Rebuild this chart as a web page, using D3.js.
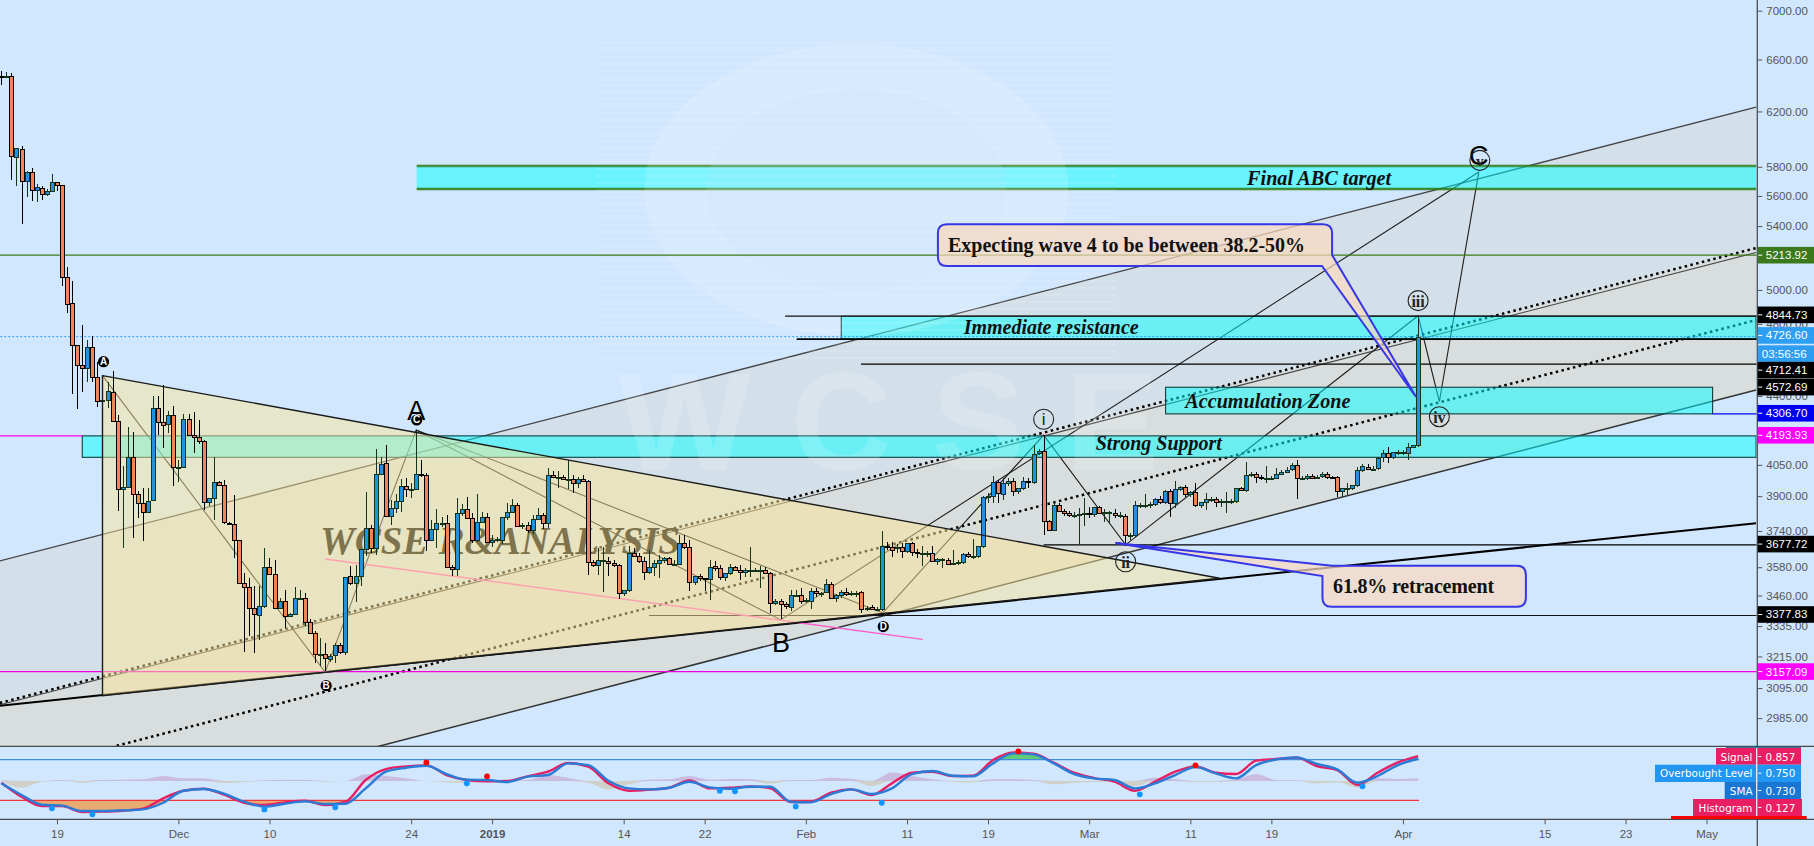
<!DOCTYPE html>
<html><head><meta charset="utf-8">
<script src="https://cdn.jsdelivr.net/npm/d3@7/dist/d3.min.js"></script>
<style>
html,body{margin:0;padding:0;background:#D1E7FE;overflow:hidden}
svg{display:block}
text{font-family:"Liberation Sans",Arial,sans-serif}
</style></head><body><svg id="c" width="1814" height="846"></svg>
<script>
// ---------- candle values (12h bars) ----------
const opens=[6468,6466,6468,5866,5924,5700,5762,5638,5655,5615,
5636,5692,5671,5077,4921,4677,4566,4549,4666,4500,
4378,4378,4420,4272,3932,3945,4090,3909,3866,3825,
3882,4335,4267,4254,4299,4038,4040,4278,4197,4186,
4166,3875,3890,3966,3955,3775,3770,3698,3511,3497,
3409,3380,3415,3583,3551,3409,3438,3376,3384,3448,
3448,3352,3307,3224,3226,3206,3219,3258,3233,3541,
3513,3544,3659,3755,3663,4005,4058,3810,3843,3879,
3950,3934,3934,4005,4003,3700,3748,3775,3778,3580,
3572,3823,3842,3798,3698,3782,3805,3689,3700,3698,
3802,3826,3860,3763,3769,3744,3796,3814,3775,4002,
3989,3991,3980,3980,3961,3983,3970,3602,3590,3610,
3606,3597,3590,3471,3482,3640,3629,3606,3559,3579,
3597,3610,3619,3594,3596,3688,3667,3518,3541,3532,
3530,3585,3575,3538,3555,3579,3570,3560,3566,3568,
3568,3568,3555,3429,3438,3426,3413,3462,3462,3438,
3438,3480,3469,3474,3509,3450,3461,3475,3466,3469,
3474,3406,3413,3404,3404,3671,3667,3662,3667,3650,
3686,3648,3640,3642,3640,3606,3613,3613,3594,3600,
3602,3637,3627,3627,3671,3900,3901,3967,3909,3961,
3973,3926,3937,3971,3966,4106,4120,3784,3746,3860,
3829,3820,3811,3815,3817,3823,3815,3848,3823,3823,
3823,3811,3810,3722,3722,3857,3859,3857,3865,3885,
3872,3923,3866,3932,3945,3909,3918,3857,3875,3885,
3885,3875,3875,3877,3879,3937,3929,4000,4006,3992,
3984,3986,3988,4007,4017,4028,4048,3984,3984,3997,
3987,3995,4008,3989,3992,3926,3936,3938,3951,4023,
4042,4029,4033,4087,4107,4090,4112,4112,4107,4140,
4146];
const highs=[6510,6502,6491,5935,5948,5770,5790,5678,5667,5645,
5750,5695,5675,5140,5055,4680,4793,4708,4730,4587,
4510,4474,4535,4300,4046,4237,4216,3925,3937,3937,
4400,4400,4458,4321,4347,4074,4304,4304,4318,4275,
4175,3890,4087,3972,3976,3782,3906,3700,3555,3534,
3502,3499,3663,3620,3613,3450,3482,3390,3497,3482,
3470,3364,3315,3287,3268,3225,3268,3266,3537,3587,
3590,3658,3918,3767,4130,4090,4150,3882,3910,3980,
3984,3961,4220,4074,4010,3790,3840,3802,3812,3590,
3890,3864,3898,3820,3909,3825,3820,3720,3715,3802,
3866,3885,3870,3775,3780,3812,3843,3823,4033,4021,
4021,4000,4074,4000,3990,4000,3975,3610,3663,3670,
3625,3613,3595,3485,3675,3663,3640,3625,3653,3613,
3634,3625,3625,3610,3723,3721,3700,3541,3550,3535,
3612,3605,3590,3555,3593,3587,3590,3575,3670,3575,
3587,3580,3560,3445,3445,3432,3484,3482,3492,3450,
3492,3490,3475,3530,3518,3465,3484,3490,3480,3480,
3480,3415,3420,3412,3741,3690,3690,3680,3685,3688,
3690,3660,3673,3650,3671,3620,3620,3620,3656,3610,
3640,3645,3704,3675,3900,3915,3997,3975,3985,3985,
3985,3940,3990,3985,4150,4130,4198,3790,3875,3866,
3840,3830,3825,3843,3890,3850,3851,3855,3840,3830,
3838,3825,3815,3730,3879,3870,3910,3875,3890,3900,
3930,3935,3970,3950,3953,3925,3961,3875,3913,3895,
3895,3885,3921,3885,3937,3945,4066,4015,4015,4000,
4044,3995,4036,4025,4041,4058,4072,3995,4005,4005,
4000,4017,4015,3998,3997,3940,3961,3955,4041,4056,
4055,4045,4090,4125,4140,4115,4125,4125,4160,4150,
4847];
const lows=[6401,6461,5709,5669,5416,5595,5568,5561,5575,5599,
5629,5636,5026,4865,4413,4334,4423,4477,4477,4344,
4360,4336,4265,3833,3662,3945,3708,3800,3697,3820,
3882,4198,4134,4207,3950,3965,4035,4197,4110,4155,
3835,3853,3788,3950,3772,3765,3620,3640,3232,3294,
3228,3280,3410,3570,3409,3405,3329,3370,3384,3440,
3335,3345,3190,3177,3160,3195,3190,3225,3222,3505,
3433,3498,3627,3640,3634,4000,3810,3767,3820,3828,
3898,3890,3930,3992,3652,3695,3663,3760,3580,3541,
3544,3810,3798,3685,3692,3775,3689,3670,3690,3680,
3790,3820,3760,3750,3730,3725,3790,3750,3752,3985,
3937,3975,3934,3915,3937,3970,3546,3580,3548,3473,
3541,3580,3447,3460,3473,3625,3600,3524,3550,3541,
3536,3600,3590,3585,3590,3660,3481,3505,3520,3481,
3440,3565,3525,3520,3545,3565,3527,3540,3538,3560,
3492,3550,3389,3420,3362,3405,3395,3455,3425,3430,
3406,3455,3455,3470,3445,3435,3450,3460,3460,3455,
3389,3395,3400,3395,3395,3655,3626,3640,3620,3640,
3627,3620,3587,3625,3606,3590,3577,3590,3590,3590,
3595,3620,3615,3620,3665,3866,3866,3866,3880,3950,
3900,3910,3930,3940,3960,4100,3724,3745,3740,3825,
3810,3805,3800,3680,3763,3800,3805,3815,3780,3775,
3800,3800,3672,3700,3715,3845,3845,3845,3855,3865,
3865,3805,3843,3925,3895,3895,3851,3845,3835,3875,
3848,3851,3820,3865,3870,3925,3920,3990,3961,3975,
3961,3975,3984,4000,4010,4020,3888,3975,3975,3980,
3980,3985,3980,3980,3895,3898,3906,3930,3945,4015,
4025,4020,4025,4065,4060,4080,4100,4100,4074,4135,
4140];
const closes=[6466,6468,5873,5931,5700,5762,5638,5662,5615,5636,
5692,5671,5077,4915,4677,4566,4549,4666,4500,4372,
4380,4425,4272,3932,3945,4090,3909,3866,3825,3879,
4335,4267,4247,4299,4038,4040,4278,4197,4186,4166,
3875,3890,3966,3955,3779,3770,3698,3511,3497,3409,
3384,3415,3583,3551,3409,3438,3376,3382,3448,3450,
3352,3307,3224,3226,3210,3216,3258,3233,3537,3513,
3541,3658,3755,3663,4005,4053,3810,3843,3879,3950,
3934,3936,4005,4003,3700,3748,3775,3778,3580,3572,
3823,3842,3798,3698,3782,3805,3689,3700,3702,3802,
3826,3860,3763,3765,3744,3796,3814,3775,4002,3989,
3991,3980,3982,3961,3980,3970,3602,3590,3610,3612,
3597,3590,3471,3482,3640,3629,3606,3559,3579,3597,
3610,3619,3594,3596,3688,3667,3518,3541,3532,3530,
3579,3575,3538,3555,3579,3570,3560,3566,3568,3570,
3570,3555,3429,3438,3426,3415,3462,3464,3438,3440,
3480,3469,3471,3509,3450,3461,3474,3466,3469,3471,
3406,3408,3406,3406,3671,3667,3656,3667,3650,3684,
3648,3640,3642,3644,3606,3615,3615,3594,3600,3602,
3636,3627,3629,3671,3896,3902,3967,3913,3961,3970,
3926,3937,3971,3969,4105,4120,3784,3746,3857,3829,
3820,3811,3813,3817,3820,3815,3848,3823,3825,3825,
3811,3813,3722,3724,3857,3859,3861,3865,3885,3875,
3923,3866,3932,3945,3909,3921,3857,3872,3885,3887,
3875,3877,3877,3879,3937,3928,4000,4006,3992,3984,
3986,3988,4007,4017,4023,4048,3984,3986,3997,3987,
3990,4008,3989,3986,3926,3939,3938,3951,4023,4044,
4029,4031,4085,4107,4090,4112,4114,4114,4140,4146,
4726.6];
// ---------- axes ----------
const priceTicks=[7000,6600,6200,5800,5600,5400,5000,4800,4400,4050,3900,3740,3580,3460,3335,3215,3095,2985];
const timeTickBars=[11,35,53,81,97,123,139,159,179,195,215,235,251,277,305,321,337];
const timeTickLabels=["19","Dec","10","24","2019","14","22","Feb","11","19","Mar","11","19","Apr","15","23","May"];
// ---------- oscillator pane, read every 4th bar ----------
const oscBars=[0,4,8,12,16,20,24,28,32,36,40,44,48,52,56,60,64,68,72,76,80,84,88,92,96,100,104,108,112,116,120,124,128,132,136,140,144,148,152,156,160,164,168,172,176,180,184,188,192,196,200,204,208,212,216,220,224,228,232,236,240,244,248,252,256,260,264,268,272,276,280];
const oscSignal=[.467,.294,.179,.179,.106,.110,.122,.147,.274,.368,
.393,.319,.220,.192,.225,.245,.192,.229,.500,.635,
.668,.680,.561,.500,.483,.487,.545,.602,.709,.664,
.459,.368,.381,.405,.495,.397,.405,.422,.397,.229,
.233,.344,.385,.315,.459,.590,.602,.549,.553,.746,
.840,.824,.713,.590,.524,.479,.368,.479,.602,.668,
.590,.573,.738,.758,.775,.672,.623,.438,.590,.717,.795];
const oscSma=[.459,.315,.196,.184,.118,.118,.126,.138,.220,.368,
.389,.331,.233,.171,.208,.237,.204,.208,.397,.602,
.651,.676,.573,.504,.500,.475,.541,.561,.705,.684,
.491,.397,.385,.405,.479,.409,.393,.417,.417,.233,
.225,.327,.385,.327,.397,.573,.610,.553,.545,.705,
.828,.816,.705,.573,.520,.500,.397,.459,.561,.660,
.582,.520,.684,.754,.779,.697,.631,.467,.549,.684,.762];
const oscHist=[.03,-.32,-.03,.05,-.08,.05,.06,.08,.24,.13,
.13,-.10,-.05,.03,.06,.06,-.03,0,.32,.24,
.13,0,-.06,-.10,.03,.03,.05,.29,.16,-.08,
-.40,-.16,.06,.08,.24,.06,.10,.08,-.13,.05,
.05,.16,.10,-.24,.40,.24,.08,-.03,-.06,.08,
.08,.05,-.16,-.08,-.05,-.03,-.24,.16,.08,-.05,
-.05,.08,.32,.05,.03,-.11,-.06,-.32,.13,.10,.127];
const oscLevels=[.75,.25];
const dotUpBars=[84,96,201,236], dotUpVals=[.717,.545,.853,.680];
const dotDnBars=[10,18,52,66,92,142,145,157,174,225,269], dotDnVals=[.151,.077,.138,.163,.459,.368,.360,.175,.220,.323,.422];
const paneTagNames=["Signal","Overbought Level","SMA","Histogram"];
const paneTagVals=["0.857","0.750","0.730","0.127"];
// ---------- drawings on the price pane ----------
const channelUpper=[[-0.3,3607],[346.8,6233]];
const channelMidDot=[[-0.3,3040],[346.8,5259]];
const channelMidSolid=[[-0.3,3033],[346.8,5231]];
const channelLowDot=[[22.8,2887],[346.8,4822]];
const channelLower=[[-0.3,2564],[346.8,4432]];
const thickTrend=[[-0.3,3030],[346.8,3775]];
const triangle=[[20,4510],[240.8,3533],[20,3067]];
const pinkLine=[[64,3616],[182.1,3282]];
const abcLeg=[[20,4510],[64,3155],[82,4224],[154,3360]];
const abcLeg2=[[82,4224],[174.2,3388]];
const bigLeg=[[154,3360],[292,5764]];
const waveLegs=[[174.2,3388],[206,4198],[222.2,3678],[280,4847],[284.2,4370],[292,5764]];
const levelPrices=[5213.92,4726.6,4193.93,3157.09,3677.72,3377.83,4844.73,4712.41,4572.69,4306.7];
const levelStart=[-1,-1,-1,-1,206,128,154.9,157.2,169.9,338.2];
const bandNames=["Final ABC target","Strong Support","Accumulation Zone","Immediate resistance"];
const bandTop=[5806,4193.93,4447,4844.73];
const bandBottom=[5647,4087,4306.7,4712.41];
const bandFrom=[82.1,16,230.1,166];
const bandTo=[346.8,346.8,338.2,346.8];
const bandTextAt=[[246.2,5674],[216.3,4123],[234,4336],[190.2,4742]];
const priceTags=["5213.92","4844.73","4726.60","03:56:56","4712.41","4572.69","4306.70","4193.93","3677.72","3377.83","3157.09"];
const priceTagAt=[5213.92,4844.73,4726.6,4726.6,4712.41,4572.69,4306.7,4193.93,3677.72,3377.83,3157.09];
const smallBadges=["A","C","B","D"];
const smallBadgeAt=[[20.2,4586],[82.1,4275],[64.2,3104],[174.3,3333]];
const bigLetters=["A","B","C"];
const bigLetterAt=[[82,4275],[154.1,3233],[292,5813]];
const waveNames=["i","ii","iii","iv","v"];
const waveAt=[[206,4279],[222.2,3604],[280,4936],[284.2,4292],[292.2,5845]];
const callout1Box=[185.1,5412,263,5147], callout1Tip=[279.6,4395], callout1Base=[[263,5215],[261,5147]];
const callout2Box=[261.1,3586,301.3,3414], callout2Tip=[220.2,3686], callout2Base=[[263,3586],[261.1,3542]];

// ---------- scales ----------
const x=d3.scaleLinear().domain([0,280]).range([1.3,1418.1]);
const y=d3.scaleLog().domain([2985,7000]).range([718.1,10.7]);
const yOsc=d3.scaleLinear().domain([0,1]).range([820.6,739.4]);
const yHist=d3.scaleLinear().domain([-1,1]).range([802,760]);
const P=p=>[x(p[0]),y(p[1])];

const svg=d3.select("#c");
const AX=1757.3, PB=746.3, LB=819.3;
const defs=svg.append("defs");
defs.append("clipPath").attr("id","main").append("rect").attr("x",0).attr("y",0).attr("width",AX-.8).attr("height",PB);
const st=defs.append("pattern").attr("id","scan").attr("width",8).attr("height",7).attr("patternUnits","userSpaceOnUse");
st.append("rect").attr("width",8).attr("height",2).attr("fill","rgba(255,255,255,.10)");
defs.append("clipPath").attr("id","oscLow").append("rect").attr("x",0).attr("y",yOsc(.25)).attr("width",AX).attr("height",LB-yOsc(.25));
defs.append("clipPath").attr("id","oscHigh").append("rect").attr("x",0).attr("y",PB).attr("width",AX).attr("height",yOsc(.75)-PB);

const g=svg.append("g").attr("clip-path","url(#main)");
const line=d3.line(d=>d[0],d=>d[1]);
const poly=a=>line(a.map(P))+"Z";
const open=a=>line(a.map(P));

// channel fills
g.append("path").attr("d",poly([channelUpper[0],channelUpper[1],channelMidDot[1],channelMidDot[0]])).attr("fill","#D4E0E9");
g.append("path").attr("d",poly([channelMidDot[0],channelMidDot[1],channelLower[1],channelLower[0]])).attr("fill","#D8DDDD");

// channel & wave lines (sit beneath the bands and the triangle)
g.append("path").attr("d",open(channelUpper)).attr("stroke","#444").attr("stroke-width",1.3).attr("fill","none");
g.append("path").attr("d",open(channelLower)).attr("stroke","#333").attr("stroke-width",1.5).attr("fill","none");
g.append("path").attr("d",open(channelMidSolid)).attr("stroke","#444").attr("stroke-width",1.1).attr("fill","none");
[channelMidDot,channelLowDot].forEach(l=>g.append("path").attr("d",open(l)).attr("stroke","#000").attr("stroke-width",2.5).attr("stroke-dasharray","2.5 3.4").attr("fill","none"));
g.append("path").attr("d",open(thickTrend)).attr("stroke","#000").attr("stroke-width",2).attr("fill","none");
[abcLeg,abcLeg2,bigLeg,waveLegs].forEach(l=>g.append("path").attr("d",open(l)).attr("stroke","#1c1c1c").attr("stroke-width",1.1).attr("fill","none"));

// bands
bandTop.forEach((t,i)=>{
  const bx=x(bandFrom[i]),w=x(bandTo[i])-bx,yt=y(t),yb=y(bandBottom[i]);
  g.append("rect").attr("x",bx).attr("y",yt).attr("width",w).attr("height",yb-yt).attr("fill","rgba(0,255,255,.5)");
  if(i==0){
    [yt,yb].forEach(v=>{
      g.append("line").attr("x1",bx).attr("x2",bx+w).attr("y1",v).attr("y2",v).attr("stroke","rgba(47,122,18,.45)").attr("stroke-width",3);
      g.append("line").attr("x1",bx).attr("x2",bx+w).attr("y1",v).attr("y2",v).attr("stroke","#2F7A12").attr("stroke-width",1.4);
    });
  }else{
    g.append("rect").attr("x",bx).attr("y",yt).attr("width",w).attr("height",yb-yt).attr("fill","none").attr("stroke","#0E3E3E").attr("stroke-width",1.1);
  }
});

// logo watermark
const wmC=P([169,5640]);
const wm=g.append("g");
wm.append("ellipse").attr("cx",wmC[0]).attr("cy",wmC[1]).attr("rx",212).attr("ry",146).attr("fill","rgba(255,255,255,.14)");
wm.append("ellipse").attr("cx",wmC[0]).attr("cy",wmC[1]).attr("rx",150).attr("ry",100).attr("fill","rgba(200,226,250,.14)");
wm.append("rect").attr("x",wmC[0]-260).attr("y",wmC[1]-150).attr("width",520).attr("height",320).attr("fill","url(#scan)");
const wmT=P([122,4025]);
wm.append("text").attr("x",wmT[0]).attr("y",wmT[1]).text("WCSE").attr("font-size",140).attr("font-weight",700)
  .attr("fill","rgba(255,255,255,.15)").attr("textLength",540).attr("lengthAdjust","spacing");

// horizontal levels
const levelColors=["#3B7A17","#2A9DF4","#FF00FF","#F000E0","#000","#111","#111","#000","#000","#0000FF"];
const levelWidths=[1.3,1,1.3,1.3,1.2,1.2,1.2,1.6,1.2,1.3];
levelPrices.forEach((p,i)=>{
  if(i==2) return;
  g.append("line").attr("x1",x(levelStart[i])).attr("x2",AX).attr("y1",y(p)).attr("y2",y(p))
   .attr("stroke",levelColors[i]).attr("stroke-width",levelWidths[i]).attr("stroke-dasharray",i==1?"2 2":null);
});
g.append("line").attr("x1",x(levelStart[2])).attr("x2",x(bandFrom[1])).attr("y1",y(levelPrices[2])).attr("y2",y(levelPrices[2])).attr("stroke",levelColors[2]).attr("stroke-width",levelWidths[2]);
g.append("path").attr("d",open(pinkLine)).attr("stroke","#FF5CC8").attr("stroke-width",1.4).attr("fill","none");

// signature sits under the triangle's tint
const sigT=P([63,3637]);
g.append("text").attr("x",sigT[0]).attr("y",sigT[1]).text("WCSE R&ANALYSIS").attr("fill","#000")
 .style("font-family","'Liberation Serif',serif").attr("font-weight",700).attr("font-style","italic").attr("font-size",40)
 .attr("textLength",360).attr("lengthAdjust","spacingAndGlyphs");

// triangle fill
g.append("path").attr("d",poly(triangle)).attr("fill","rgba(251,230,152,.5)");

// candles
const cg=g.append("g");
closes.forEach((c,i)=>{
  const cx=Math.round(x(i));
  const up=c>=opens[i];
  const yo=y(opens[i]),yc=y(c);
  const top=Math.round(Math.min(yo,yc)),bot=Math.round(Math.max(yo,yc));
  const edge=up?"#14351a":"#000";
  cg.append("line").attr("x1",cx+.5).attr("x2",cx+.5).attr("y1",y(highs[i])).attr("y2",y(lows[i])).attr("stroke",edge).attr("stroke-width",1).attr("shape-rendering","crispEdges");
  cg.append("rect").attr("x",cx-1.5).attr("y",top+.5).attr("width",4).attr("height",Math.max(bot-top,1))
    .attr("fill",up?"#2093E0":"#F2845A").attr("stroke",edge).attr("stroke-width",1).attr("shape-rendering","crispEdges");
});

// triangle outline
g.append("path").attr("d",poly(triangle)).attr("fill","none").attr("stroke","#1b1b1b").attr("stroke-width",1.4);

// callouts
const calloutFill="rgba(250,218,190,.72)", calloutEdge="#3636E6";
(function(){
  const r=9,[a,b]=P([callout1Box[0],callout1Box[1]]),[c,d]=P([callout1Box[2],callout1Box[3]]);
  const t=P(callout1Tip),r1=P(callout1Base[0]),r2=P(callout1Base[1]);
  g.append("path").attr("d",`M${a+r},${b}L${c-r},${b}Q${c},${b} ${c},${b+r}L${r1[0]},${r1[1]}L${t[0]},${t[1]}L${r2[0]},${r2[1]}L${a+r},${d}Q${a},${d} ${a},${d-r}L${a},${b+r}Q${a},${b} ${a+r},${b}Z`)
   .attr("fill",calloutFill).attr("stroke",calloutEdge).attr("stroke-width",2);
  const [e,f]=P([callout2Box[0],callout2Box[1]]),[h,j]=P([callout2Box[2],callout2Box[3]]);
  const u=P(callout2Tip),s1=P(callout2Base[0]),s2=P(callout2Base[1]);
  g.append("path").attr("d",`M${u[0]},${u[1]}L${s1[0]},${s1[1]}L${h-r},${f}Q${h},${f} ${h},${f+r}L${h},${j-r}Q${h},${j} ${h-r},${j}L${e+r},${j}Q${e},${j} ${e},${j-r}L${s2[0]},${s2[1]}Z`)
   .attr("fill",calloutFill).attr("stroke",calloutEdge).attr("stroke-width",2);
})();
const serifBold=s=>s.style("font-family","'Liberation Serif',serif").attr("font-weight",700).attr("fill","#111");
const t1=P([187.1,5236]);
serifBold(g.append("text").attr("x",t1[0]).attr("y",t1[1]).text("Expecting wave 4 to be between 38.2-50%").attr("font-size",20).attr("textLength",357).attr("lengthAdjust","spacing"));
const t2=P([263.2,3471]);
serifBold(g.append("text").attr("x",t2[0]).attr("y",t2[1]).text("61.8% retracement").attr("font-size",20).attr("textLength",161).attr("lengthAdjust","spacing"));

// band captions
const captionW=[144,126,165,175];
bandNames.forEach((n,i)=>{
  const p=P(bandTextAt[i]);
  serifBold(g.append("text").attr("x",p[0]).attr("y",p[1]).text(n).attr("font-style","italic").attr("font-size",20)
    .attr("textLength",captionW[i]).attr("lengthAdjust","spacingAndGlyphs"));
});

// letters & wave circles
bigLetters.forEach((n,i)=>{
  const p=P(bigLetterAt[i]);
  g.append("text").attr("x",p[0]).attr("y",p[1]).attr("text-anchor","middle").text(n).attr("font-size",27).attr("fill","#000");
});
smallBadges.forEach((n,i)=>{
  const p=P(smallBadgeAt[i]);
  g.append("circle").attr("cx",p[0]).attr("cy",p[1]).attr("r",5.6).attr("fill","#000");
  g.append("text").attr("x",p[0]).attr("y",p[1]+3.5).attr("text-anchor","middle").text(n).attr("font-size",10).attr("font-weight",700).attr("fill","#fff");
});
waveNames.forEach((n,i)=>{
  const p=P(waveAt[i]);
  g.append("circle").attr("cx",p[0]).attr("cy",p[1]).attr("r",10).attr("fill","none").attr("stroke","#222").attr("stroke-width",1.1);
  g.append("text").attr("x",p[0]).attr("y",p[1]+6).attr("text-anchor","middle").text(n)
   .style("font-family",i==0?"'Liberation Sans',sans-serif":"'Liberation Serif',serif").attr("font-weight",i==0?400:700).attr("font-size",i==0?17:(i==4?15:16)).attr("fill","#222");
});

// ---------- price axis ----------
const axG=svg.append("g").attr("transform",`translate(${AX},0)`)
  .call(d3.axisRight(y).tickValues(priceTicks).tickFormat(d3.format(".2f")).tickSize(5).tickPadding(4));
axG.select(".domain").remove();
axG.selectAll("line").attr("stroke","#555");
axG.selectAll("text").attr("fill","#555").style("font-size","11.5px").style("font-family","'Liberation Sans',sans-serif");

// ---------- pane frames ----------
svg.append("line").attr("x1",AX).attr("x2",AX).attr("y1",0).attr("y2",846).attr("stroke","#4a4f55").attr("stroke-width",1.3);
[PB,LB].forEach(v=>svg.append("line").attr("x1",0).attr("x2",1814).attr("y1",v).attr("y2",v).attr("stroke","#4a4a4a").attr("stroke-width",1.3));

// ---------- oscillator ----------
const o=svg.append("g");
const oscRows=oscBars.map((b,i)=>({b,s:oscSignal[i],m:oscSma[i],h:oscHist[i]}));
const curve=d3.curveMonotoneX;
o.append("path").attr("d",d3.area().x(d=>x(d.b)).y0(yHist(0)).y1(d=>yHist(Math.max(d.h,0))).curve(curve)(oscRows)).attr("fill","rgba(190,110,170,.35)");
o.append("path").attr("d",d3.area().x(d=>x(d.b)).y0(yHist(0)).y1(d=>yHist(Math.min(d.h,0))).curve(curve)(oscRows)).attr("fill","rgba(205,170,110,.38)");
o.append("g").attr("clip-path","url(#oscLow)").append("path").attr("d",d3.area().x(d=>x(d.b)).y0(yOsc(.25)).y1(d=>yOsc(Math.min(d.s,d.m))).curve(curve)(oscRows)).attr("fill","#E8AC72");
o.append("g").attr("clip-path","url(#oscHigh)").append("path").attr("d",d3.area().x(d=>x(d.b)).y0(yOsc(.75)).y1(d=>yOsc(Math.max(d.s,d.m))).curve(curve)(oscRows)).attr("fill","#5FCB76");
const levelC=["#3F8FDD","#F0383C"];
oscLevels.forEach((v,i)=>o.append("line").attr("x1",x(-.3)).attr("x2",x(280.2)).attr("y1",yOsc(v)).attr("y2",yOsc(v)).attr("stroke",levelC[i]).attr("stroke-width",1.2));
o.append("path").attr("d",d3.line().x(d=>x(d.b)).y(d=>yOsc(d.s)).curve(curve)(oscRows)).attr("fill","none").attr("stroke","#E91E63").attr("stroke-width",2.4);
o.append("path").attr("d",d3.line().x(d=>x(d.b)).y(d=>yOsc(d.m)).curve(curve)(oscRows)).attr("fill","none").attr("stroke","#2A7CD6").attr("stroke-width",2.4);
dotUpBars.forEach((b,i)=>o.append("circle").attr("cx",x(b)).attr("cy",yOsc(dotUpVals[i])).attr("r",2.9).attr("fill","#FF0000"));
dotDnBars.forEach((b,i)=>o.append("circle").attr("cx",x(b)).attr("cy",yOsc(dotDnVals[i])).attr("r",2.9).attr("fill","#0F95FF"));

// ---------- time axis ----------
const tx=svg.append("g").attr("transform",`translate(0,${LB})`)
 .call(d3.axisBottom(x).tickValues(timeTickBars).tickFormat((d,i)=>timeTickLabels[i]).tickSize(5).tickPadding(6));
tx.select(".domain").remove();
tx.selectAll("line").attr("stroke","#555");
tx.selectAll("text").attr("fill","#555").style("font-size","11.5px").style("font-family","'Liberation Sans',sans-serif")
  .style("font-weight",(d,i)=>timeTickLabels[i]==="2019"?"700":"400");

// ---------- price tags ----------
const tagColors=["#3A7A1C","#000","#2E9EF2","#2E9EF2","#000","#000","#0000F0","#FF00FF","#000","#000","#FF00FF"];
const tagShift=[0,-1.3,-1.2,17,31,23,-.6,-.6,-.8,-1,0];
priceTags.forEach((t,i)=>{
  const yy=y(priceTagAt[i])+tagShift[i];
  svg.append("rect").attr("x",AX+.4).attr("y",yy-8.3).attr("width",1814-AX).attr("height",16.6).attr("fill",tagColors[i]);
  if(i!=3) svg.append("line").attr("x1",AX+1).attr("x2",AX+5).attr("y1",yy).attr("y2",yy).attr("stroke","#fff");
  svg.append("text").attr("x",i==3?AX+4.5:AX+8.5).attr("y",yy+4).text(t).attr("fill","#fff").attr("font-size",11.5);
});

// ---------- oscillator tags ----------
const paneTagColors=["#E91E63","#2196F3","#1976D2","#E91E63"];
const paneTagX=[1716,1655,1724.7,1693], paneTagEnd=[1801,1801,1801,1802];
const paneTagY=[748,764.7,782,799], paneTagH=[16.7,17.3,17,17];
svg.append("rect").attr("x",1726).attr("y",746.8).attr("width",75).attr("height",1.4).attr("fill","#3B6F9E");
paneTagNames.forEach((n,i)=>{
  svg.append("rect").attr("x",paneTagX[i]).attr("y",paneTagY[i]).attr("width",paneTagEnd[i]-paneTagX[i]).attr("height",paneTagH[i]).attr("fill",paneTagColors[i]);
  svg.append("text").attr("x",1752.5).attr("y",paneTagY[i]+12.6).attr("text-anchor","end").text(n).attr("fill","#fff").style("font-family","'DejaVu Sans',sans-serif").attr("font-size",10.4);
  svg.append("line").attr("x1",AX+1).attr("x2",AX+4).attr("y1",paneTagY[i]+8.5).attr("y2",paneTagY[i]+8.5).attr("stroke","#fff");
  svg.append("text").attr("x",1765.5).attr("y",paneTagY[i]+12.6).text(paneTagVals[i]).attr("fill","#fff").style("font-family","'DejaVu Sans',sans-serif").attr("font-size",10.4);
});
svg.append("line").attr("x1",AX-.6).attr("x2",AX-.6).attr("y1",748).attr("y2",819).attr("stroke","#E6F0FF").attr("stroke-width",1.3);
svg.append("rect").attr("x",1671).attr("y",816).attr("width",135.7).attr("height",3).attr("fill","#FF0000");
</script></body></html>
